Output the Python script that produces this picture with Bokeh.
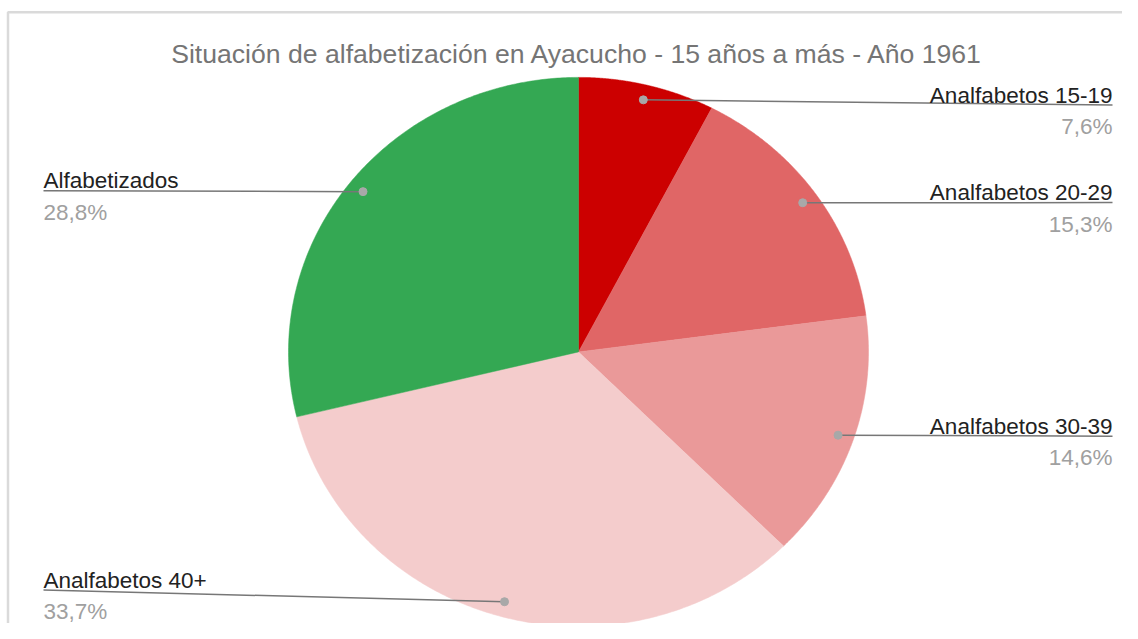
import numpy as np
from bokeh.plotting import figure
from bokeh.models import Range1d
from bokeh.core.properties import value
from bokeh.embed import file_html
from bokeh.resources import INLINE

# ---- data ----
categories = ["Analfabetos 15-19", "Analfabetos 20-29", "Analfabetos 30-39",
              "Analfabetos 40+", "Alfabetizados"]
shares = [7.6, 15.3, 14.6, 33.7, 28.8]
pct_labels = ["7,6%", "15,3%", "14,6%", "33,7%", "28,8%"]
colors = ["#cc0000", "#e06666", "#ea9999", "#f4cccc", "#34a853"]
title_text = "Situación de alfabetización en Ayacucho - 15 años a más - Año 1961"

# ---- layout (pixel-like space, y downwards) ----
W, H = 1122, 623
CX, CY, RX, RY = 578, 356.5, 290, 278.5
DOT_FRAC = 0.945
label_side = ["right", "right", "right", "left", "left"]
label_line_y = [106, 205, 442, 598, 193]
RIGHT_X, LEFT_X = 1112, 43
FONT = value("Liberation Sans")

p = figure(width=W, height=H, x_range=Range1d(0, W), y_range=Range1d(632, 0),
           x_axis_type=None, y_axis_type=None, output_backend="svg",
           toolbar_location=None, min_border=0)
p.grid.visible = False
p.outline_line_color = None
p.background_fill_color = "white"

# border (frame of the original chart)
p.line([7.5, 7.5, W], [700, 12, 12], line_color="#dadada", line_width=2.5)

# pie slices (elliptical, clockwise from top)
fr = np.array(shares) / np.sum(shares)
ends = np.cumsum(fr) * 2 * np.pi
starts = ends - fr * 2 * np.pi
xs, ys = [], []
for a0, a1 in zip(starts, ends):
    t = np.linspace(a0, a1, 200)
    xs.append(np.concatenate([[CX], CX + RX * np.sin(t)]).tolist())
    ys.append(np.concatenate([[CY], CY - RY * np.cos(t)]).tolist())
p.patches(xs, ys, fill_color=colors, line_color=colors, line_width=0.5)

# leader lines, dots and labels
mids = (starts + ends) / 2
for i, cat in enumerate(categories):
    dx = CX + DOT_FRAC * RX * np.sin(mids[i])
    dy = CY - DOT_FRAC * RY * np.cos(mids[i])
    ly = label_line_y[i]
    if label_side[i] == "right":
        lx, align = RIGHT_X, "right"
    else:
        lx, align = LEFT_X, "left"
    p.line([dx, lx], [dy, ly], line_color="#777777", line_width=1.5)
    p.scatter([dx], [dy], size=8, fill_color="#a8a8a8", line_color="#a8a8a8")
    p.text([lx], [ly - 10], text=[cat], text_font=FONT, text_font_size="22.5px",
           text_color="#222222", text_align=align, text_baseline="alphabetic")
    p.text([lx], [ly + 22], text=[pct_labels[i]], text_font=FONT, text_font_size="22.5px",
           text_color="#a0a0a0", text_align=align, text_baseline="alphabetic")

# title
p.text([577], [54], text=[title_text], text_font=FONT, text_font_size="26.6px",
       text_color="#757575", text_align="center", text_baseline="alphabetic")

open("out.html", "w").write(file_html(p, INLINE))
